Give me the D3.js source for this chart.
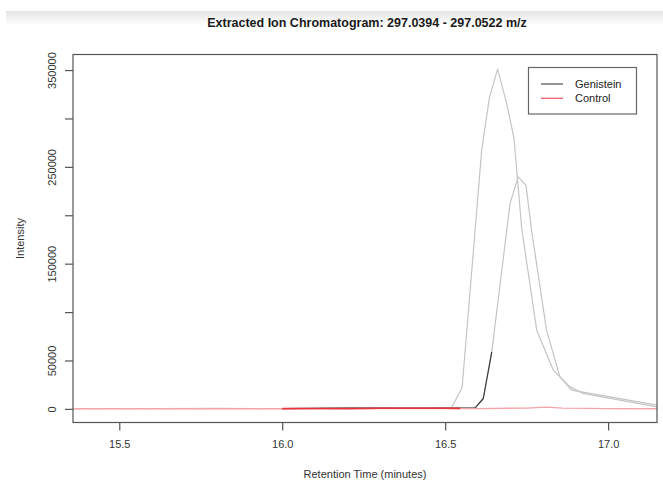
<!DOCTYPE html>
<html>
<head>
<meta charset="utf-8">
<script src="https://cdn.jsdelivr.net/npm/d3@7/dist/d3.min.js"></script>
<style>
  html, body { margin: 0; padding: 0; background: #fff; }
  svg { display: block; font-family: "Liberation Sans", Arial, Helvetica, sans-serif; }
</style>
</head>
<body>
<svg id="chart" width="663" height="483"></svg>
<script>
// Extracted ion chromatogram traces (retention time in minutes, intensity in counts)
const genistein1Time = [15.36, 15.6, 15.8, 16.0, 16.2, 16.4, 16.5, 16.52, 16.552, 16.612, 16.636, 16.661, 16.689, 16.711, 16.735, 16.781, 16.832, 16.883, 16.923, 17.15];
const genistein1Int  = [400, 300, 500, 300, 600, 800, 900, 1500, 22000, 267000, 322000, 351000, 315000, 280000, 186000, 81000, 40000, 22700, 16000, 2000];

const genistein2Time = [15.36, 15.6, 15.8, 16.0, 16.2, 16.4, 16.5, 16.592, 16.617, 16.643, 16.689, 16.699, 16.724, 16.748, 16.765, 16.811, 16.852, 16.888, 17.15];
const genistein2Int  = [300, 400, 300, 400, 700, 900, 900, 1000, 10700, 58900, 184600, 212000, 239700, 231000, 184600, 81300, 33000, 19300, 3800];

// Second acquisition window of the genistein sample (16.0 - 16.64 min)
const genistein3Time = [16.0, 16.2, 16.4, 16.5, 16.592, 16.617, 16.643];
const genistein3Int  = [400, 700, 900, 900, 1000, 10700, 58900];

const control1Time = [15.36, 15.6, 15.8, 16.0, 16.2, 16.4, 16.6, 16.75, 16.81, 16.86, 17.0, 17.15];
const control1Int  = [100, 200, 100, 200, 300, 400, 300, 800, 1800, 800, 300, 200];

// Second acquisition window of the control sample (16.0 - 16.55 min)
const control2Time = [16.0, 16.1, 16.2, 16.3, 16.4, 16.5, 16.546];
const control2Int  = [300, 400, 300, 600, 700, 600, 500];

const xTicks = [15.5, 16.0, 16.5, 17.0];
const yTicks = [0, 50000, 100000, 150000, 200000, 250000, 300000, 350000];
const yTickLabels = [0, 50000, 150000, 250000, 350000];

const legendNames = ["Genistein", "Control"];
const legendColors = ["#5a5a5a", "#f2606e"];

const title = "Extracted Ion Chromatogram: 297.0394 - 297.0522 m/z";
const xTitle = "Retention Time (minutes)";
const yTitle = "Intensity";

const svg = d3.select("#chart");
const box = { left: 73, right: 657, top: 54.5, bottom: 422.5 };

const x = d3.scaleLinear().domain([15.358, 17.15]).range([box.left, box.right]);
const y = d3.scaleLinear().domain([-14080, 366080]).range([box.bottom, box.top]);

// faint header band
const defs = svg.append("defs");
const grad = defs.append("linearGradient").attr("id", "band").attr("x1", 0).attr("y1", 0).attr("x2", 0).attr("y2", 1);
grad.append("stop").attr("offset", "0%").attr("stop-color", "#e4e4e4");
grad.append("stop").attr("offset", "100%").attr("stop-color", "#ffffff");
svg.append("rect").attr("x", 6).attr("y", 11).attr("width", 657).attr("height", 14).attr("fill", "url(#band)");

defs.append("clipPath").attr("id", "plotClip")
  .append("rect")
  .attr("x", box.left).attr("y", box.top)
  .attr("width", box.right - box.left).attr("height", box.bottom - box.top);

// title
svg.append("text")
  .attr("x", (box.left + box.right) / 2 + 2).attr("y", 27)
  .attr("text-anchor", "middle")
  .attr("font-weight", "bold").attr("font-size", 12.5).attr("fill", "#1a1a1a")
  .text(title);

// traces (control drawn over the sample so its baseline stays visible)
const line = d3.line().x(d => x(d[0])).y(d => y(d[1]));
const traces = [
  { t: genistein1Time, v: genistein1Int, color: "#c4c4c4", w: 1.2 },
  { t: genistein2Time, v: genistein2Int, color: "#c4c4c4", w: 1.2 },
  { t: genistein3Time, v: genistein3Int, color: "#3a3a3a", w: 1.2 },
  { t: control1Time, v: control1Int, color: "#f7a4a9", w: 1.4 },
  { t: control2Time, v: control2Int, color: "#e8343c", w: 1.6 }
];
const plot = svg.append("g").attr("clip-path", "url(#plotClip)");
traces.forEach(tr => {
  plot.append("path")
    .datum(d3.zip(tr.t, tr.v))
    .attr("d", line)
    .attr("fill", "none")
    .attr("stroke", tr.color)
    .attr("stroke-width", tr.w)
    .attr("stroke-linejoin", "round");
});

// plot frame
svg.append("rect")
  .attr("x", box.left).attr("y", box.top)
  .attr("width", box.right - box.left).attr("height", box.bottom - box.top)
  .attr("fill", "none").attr("stroke", "#555").attr("stroke-width", 1.2);

// x axis
const xAxis = svg.append("g")
  .attr("transform", `translate(0,${box.bottom})`)
  .call(d3.axisBottom(x).tickValues(xTicks).tickSize(8).tickSizeOuter(0).tickPadding(10).tickFormat(d3.format(".1f")));
xAxis.select(".domain").remove();
xAxis.selectAll("line").attr("stroke", "#555").attr("stroke-width", 1.2);
xAxis.selectAll("text").attr("font-size", 11).attr("fill", "#333").attr("font-family", "Liberation Sans, Arial, sans-serif");

// y axis
const yAxis = svg.append("g")
  .attr("transform", `translate(${box.left},0)`)
  .call(d3.axisLeft(y).tickValues(yTicks).tickSize(8).tickSizeOuter(0)
    .tickFormat(d => yTickLabels.includes(d) ? String(d) : ""));
yAxis.select(".domain").remove();
yAxis.selectAll("line").attr("stroke", "#555").attr("stroke-width", 1.2);
yAxis.selectAll("text")
  .attr("font-size", 11).attr("fill", "#333").attr("font-family", "Liberation Sans, Arial, sans-serif")
  .attr("text-anchor", "middle")
  .attr("dy", null)
  .attr("x", null)
  .attr("transform", "translate(-21,0) rotate(-90)")
  .attr("dominant-baseline", "central");

// axis titles
svg.append("text")
  .attr("x", (box.left + box.right) / 2).attr("y", 478)
  .attr("text-anchor", "middle").attr("font-size", 11).attr("fill", "#333")
  .text(xTitle);
svg.append("text")
  .attr("transform", `translate(20,${(box.top + box.bottom) / 2}) rotate(-90)`)
  .attr("text-anchor", "middle").attr("dominant-baseline", "central")
  .attr("font-size", 11).attr("fill", "#333")
  .text(yTitle);

// legend
const lg = svg.append("g");
lg.append("rect").attr("x", 528.5).attr("y", 67.5).attr("width", 108).attr("height", 46.5)
  .attr("fill", "#fff").attr("stroke", "#666").attr("stroke-width", 1.2);
legendNames.forEach((name, i) => {
  const ly = 84 + i * 14.3;
  lg.append("line").attr("x1", 541).attr("x2", 563).attr("y1", ly).attr("y2", ly)
    .attr("stroke", legendColors[i]).attr("stroke-width", 1.3);
  lg.append("text").attr("x", 575).attr("y", ly).attr("dominant-baseline", "central")
    .attr("font-size", 11).attr("fill", "#222").text(name);
});
</script>
</body>
</html>
